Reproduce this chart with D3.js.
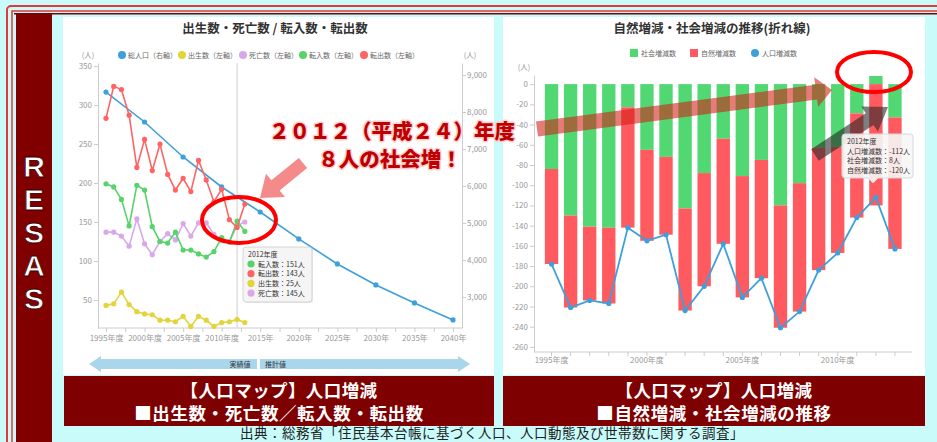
<!DOCTYPE html>
<html>
<head>
<meta charset="utf-8">
<script src="https://cdn.jsdelivr.net/npm/d3@7"></script>
<style>
  body { margin: 0; background: #c9fbfb; }
  svg { display: block; font-family: "Noto Sans CJK JP", "Noto Sans", sans-serif; }
</style>
</head>
<body>
<svg id="chart" width="937" height="442"></svg>
<script>
'use strict';

// ---- data ----
var years = [1995, 1996, 1997, 1998, 1999, 2000, 2001, 2002, 2003, 2004, 2005, 2006, 2007, 2008, 2009, 2010, 2011, 2012, 2013];
var births = [43, 45, 60, 44, 35, 32, 31, 24, 24, 22, 29, 16, 29, 24, 16, 21, 22, 25, 21];
var deaths = [137, 137, 132, 119, 154, 122, 108, 125, 135, 127, 148, 132, 149, 149, 134, 126, 125, 145, 150];
var moveIn = [199, 195, 179, 145, 197, 191, 144, 125, 123, 137, 114, 114, 109, 105, 112, 130, 124, 151, 138];
var moveOut = [283, 324, 320, 287, 220, 256, 216, 250, 211, 191, 206, 189, 229, 204, 176, 192, 153, 143, 173];

var popYears = [1995, 2000, 2005, 2010, 2015, 2020, 2025, 2030, 2035, 2040];
var population = [8540, 7730, 6784, 5973, 5297, 4568, 3892, 3324, 2838, 2378];

var socialChange = [-84, -130, -141, -142, -23, -65, -72, -123, -88, -54, -91, -75, -120, -98, -63, -62, -29, 8, -33];
var naturalChange = [-94, -91, -73, -75, -119, -90, -77, -101, -112, -104, -120, -117, -121, -127, -121, -105, -103, -120, -130];
var popChange = [-178, -221, -214, -217, -142, -155, -149, -224, -200, -158, -211, -192, -241, -225, -184, -167, -132, -112, -163];

var leftTicks = [50, 100, 150, 200, 250, 300, 350];
var rightTicks = [3000, 4000, 5000, 6000, 7000, 8000, 9000];
var yearTicks = [1995, 2000, 2005, 2010, 2015, 2020, 2025, 2030, 2035, 2040];
var changeTicks = [0, -20, -40, -60, -80, -100, -120, -140, -160, -180, -200, -220, -240, -260];
var barLabelYears = [1995, 2000, 2005, 2010];

var C = {
  blue: '#3ea0da', yellow: '#e2d43a', purple: '#d9a8e8', green: '#56d46a', red: '#ff6464',
  barGreen: '#52d873', barRed: '#ff5a5f', axis: '#cccccc', label: '#999999'
};

var svg = d3.select('#chart');

function arrowPath(x1, y1, x2, y2, bw, hw, hl) {
  var dx = x2 - x1, dy = y2 - y1, len = Math.sqrt(dx * dx + dy * dy);
  var ux = dx / len, uy = dy / len, nx = -uy, ny = ux;
  var bx = x2 - ux * hl, by = y2 - uy * hl;
  var pts = [
    [x1 + nx * bw / 2, y1 + ny * bw / 2],
    [bx + nx * bw / 2, by + ny * bw / 2],
    [bx + nx * hw / 2, by + ny * hw / 2],
    [x2, y2],
    [bx - nx * hw / 2, by - ny * hw / 2],
    [bx - nx * bw / 2, by - ny * bw / 2],
    [x1 - nx * bw / 2, y1 - ny * bw / 2]
  ];
  return 'M' + pts.map(function (p) { return p[0].toFixed(1) + ',' + p[1].toFixed(1); }).join('L') + 'Z';
}

function styleAxis(g) {
  g.selectAll('.domain').attr('stroke', C.axis);
  g.selectAll('.tick line').attr('stroke', C.axis);
  g.selectAll('.tick text').attr('fill', C.label).attr('font-size', '8px')
    .attr('font-family', '"Noto Sans CJK JP", sans-serif');
}

// ---- frame ----
svg.append('rect').attr('x', 7).attr('y', 6).attr('width', 945).attr('height', 450).attr('rx', 4)
  .attr('fill', 'none').attr('stroke', '#e23a3a').attr('stroke-width', 2);
svg.append('rect').attr('x', 12).attr('y', 11).attr('width', 945).attr('height', 450)
  .attr('fill', 'none').attr('stroke', '#e23a3a').attr('stroke-width', 1.5);
svg.append('rect').attr('x', 14).attr('y', 13).attr('width', 940).attr('height', 1.5).attr('fill', '#800000');
svg.append('rect').attr('x', 16).attr('y', 13).attr('width', 36).attr('height', 440).attr('fill', '#800000');

['R', 'E', 'S', 'A', 'S'].forEach(function (ch, i) {
  svg.append('text').attr('x', 34).attr('y', 166 + i * 33).attr('dy', '0.36em')
    .attr('text-anchor', 'middle').attr('font-family', '"Liberation Sans", Arial, sans-serif')
    .attr('font-weight', 'bold').attr('font-size', '30px')
    .attr('fill', '#fff').attr('stroke', '#3a0000').attr('stroke-width', 0.8)
    .text(ch);
});

// panels
svg.append('rect').attr('x', 63).attr('y', 17).attr('width', 431).attr('height', 358).attr('fill', '#fff');
svg.append('rect').attr('x', 503).attr('y', 17).attr('width', 422).attr('height', 358).attr('fill', '#fff');

// title boxes
var boxes = [
  { x: 64, w: 430, l1: '【人口マップ】人口増減', l2: '■出生数・死亡数／転入数・転出数' },
  { x: 503, w: 422, l1: '【人口マップ】人口増減', l2: '■自然増減・社会増減の推移' }
];
boxes.forEach(function (b) {
  svg.append('rect').attr('x', b.x).attr('y', 376).attr('width', b.w).attr('height', 50).attr('fill', '#7f0000');
  svg.append('text').attr('x', b.x + b.w / 2).attr('y', 391).attr('dy', '0.36em').attr('text-anchor', 'middle')
    .attr('fill', '#fff').attr('font-weight', 'bold').attr('font-size', '17.5px')
    .attr('letter-spacing', '0.4px').text(b.l1);
  svg.append('text').attr('x', b.x + b.w / 2).attr('y', 413.5).attr('dy', '0.36em').attr('text-anchor', 'middle')
    .attr('fill', '#fff').attr('font-weight', 'bold').attr('font-size', '17.5px')
    .attr('letter-spacing', '0.6px').text(b.l2);
});

svg.append('text').attr('x', 492).attr('y', 433.5).attr('dy', '0.36em').attr('text-anchor', 'middle')
  .attr('fill', '#222').attr('font-size', '13.5px').attr('letter-spacing', '0.5px')
  .text('出典：総務省「住民基本台帳に基づく人口、人口動態及び世帯数に関する調査」');

// ================= left chart =================
var L = svg.append('g');
var lx = d3.scaleLinear().domain([1995, 2040]).range([106, 453]);
var ly = d3.scaleLinear().domain([14, 354]).range([328, 63]);
var ry = d3.scaleLinear().domain([2160, 9325]).range([328, 63]);

L.append('text').attr('x', 275).attr('y', 28).attr('dy', '0.36em').attr('text-anchor', 'middle')
  .attr('font-weight', 'bold').attr('font-size', '12.5px').attr('fill', '#333')
  .text('出生数・死亡数 / 転入数・転出数');

var leftLegend = [
  { name: '総人口（右軸）', color: C.blue, x: 122 },
  { name: '出生数（左軸）', color: C.yellow, x: 182 },
  { name: '死亡数（左軸）', color: C.purple, x: 243 },
  { name: '転入数（左軸）', color: C.green, x: 303 },
  { name: '転出数（左軸）', color: C.red, x: 364 }
];
leftLegend.forEach(function (d) {
  L.append('circle').attr('cx', d.x).attr('cy', 55).attr('r', 4).attr('fill', d.color);
  L.append('text').attr('x', d.x + 6).attr('y', 55).attr('dy', '0.36em').attr('font-size', '7px')
    .attr('fill', '#666').text(d.name);
});
L.append('text').attr('x', 88).attr('y', 55).attr('dy', '0.36em').attr('text-anchor', 'middle')
  .attr('font-size', '7.5px').attr('fill', C.label).text('(人)');
L.append('text').attr('x', 470).attr('y', 55).attr('dy', '0.36em').attr('text-anchor', 'middle')
  .attr('font-size', '7.5px').attr('fill', C.label).text('(人)');

// axes
L.append('g').attr('transform', 'translate(98,0)')
  .call(d3.axisLeft(ly).tickValues(leftTicks).tickSize(4).tickSizeOuter(0).tickPadding(2)
    .tickFormat(function (d) { return String(d); }))
  .call(styleAxis);
L.append('g').attr('transform', 'translate(462,0)')
  .call(d3.axisRight(ry).tickValues(rightTicks).tickSize(4).tickSizeOuter(0).tickPadding(1)
    .tickFormat(d3.format(',')))
  .call(styleAxis);
var lxAxis = L.append('g').attr('transform', 'translate(0,328)')
  .call(d3.axisBottom(lx).tickValues(d3.range(1995, 2041, 2.5)).tickSize(4).tickSizeOuter(0)
    .tickFormat(function (d) {
      if (yearTicks.indexOf(d) < 0) return '';
      return d <= 2010 ? d + '年度' : d + '年';
    }))
  .call(styleAxis);
lxAxis.select('.domain').remove();
L.append('line').attr('x1', 98).attr('x2', 462).attr('y1', 328).attr('y2', 328).attr('stroke', C.axis);

// crosshair at 2012
L.append('line').attr('x1', lx(2012)).attr('x2', lx(2012)).attr('y1', 63).attr('y2', 328)
  .attr('stroke', '#cfcfcf').attr('stroke-width', 1);

function drawSeries(xs, vals, yScale, color) {
  var pts = xs.map(function (x, i) { return [lx(x), yScale(vals[i])]; });
  L.append('path').attr('d', d3.line()(pts)).attr('fill', 'none')
    .attr('stroke', color).attr('stroke-width', 1.6);
  L.append('g').selectAll('circle').data(pts).enter().append('circle')
    .attr('cx', function (d) { return d[0]; }).attr('cy', function (d) { return d[1]; })
    .attr('r', 2.6).attr('fill', color);
}
drawSeries(popYears, population, ry, C.blue);
drawSeries(years, births, ly, C.yellow);
drawSeries(years, deaths, ly, C.purple);
drawSeries(years, moveIn, ly, C.green);
drawSeries(years, moveOut, ly, C.red);

// 実績値 / 推計値 arrows
L.append('path').attr('d', 'M89,364L101,356L101,359L257,359L257,369L101,369L101,372Z').attr('fill', '#a9d6ea');
L.append('path').attr('d', 'M260,359L458,359L458,356L470,364L458,372L458,369L260,369Z').attr('fill', '#a9d6ea');
L.append('text').attr('x', 240).attr('y', 364).attr('dy', '0.36em').attr('text-anchor', 'middle')
  .attr('font-size', '7px').attr('fill', '#333').text('実績値');
L.append('text').attr('x', 265).attr('y', 364).attr('dy', '0.36em')
  .attr('font-size', '7px').attr('fill', '#333').text('推計値');

// tooltip
var tipL = L.append('g').attr('transform', 'translate(243,247)');
tipL.append('rect').attr('x', 1).attr('y', 1).attr('width', 69).attr('height', 55).attr('rx', 3)
  .attr('fill', 'rgba(0,0,0,0.08)');
tipL.append('rect').attr('width', 69).attr('height', 55).attr('rx', 3)
  .attr('fill', 'rgba(246,246,246,0.95)').attr('stroke', '#d4d4d4');
tipL.append('text').attr('x', 5).attr('y', 7).attr('dy', '0.36em').attr('font-size', '7px').attr('fill', '#333').text('2012年度');
var tipRows = [
  { c: C.green, t: '転入数：151人' },
  { c: C.red, t: '転出数：143人' },
  { c: C.yellow, t: '出生数：25人' },
  { c: C.purple, t: '死亡数：145人' }
];
tipRows.forEach(function (r, i) {
  tipL.append('circle').attr('cx', 8).attr('cy', 17 + i * 9.7).attr('r', 3.6).attr('fill', r.c);
  tipL.append('text').attr('x', 15).attr('y', 17 + i * 9.7).attr('dy', '0.36em').attr('font-size', '7px')
    .attr('fill', '#333').text(r.t);
});

// ================= right chart =================
var R = svg.append('g');
var bx = d3.scaleBand().domain(years).range([542, 904.5]).paddingInner(0.3).paddingOuter(0.15);
var by = d3.scaleLinear().domain([-265, 9]).range([352, 75]);
var bw = bx.bandwidth();

R.append('text').attr('x', 712).attr('y', 28).attr('dy', '0.36em').attr('text-anchor', 'middle')
  .attr('font-weight', 'bold').attr('font-size', '12.5px').attr('fill', '#333')
  .text('自然増減・社会増減の推移(折れ線)');

var rightLegend = [
  { name: '社会増減数', color: C.barGreen, x: 634, shape: 'sq' },
  { name: '自然増減数', color: C.barRed, x: 694, shape: 'sq' },
  { name: '人口増減数', color: C.blue, x: 755, shape: 'c' }
];
rightLegend.forEach(function (d) {
  if (d.shape === 'sq') {
    R.append('rect').attr('x', d.x - 4).attr('y', 49).attr('width', 8).attr('height', 8).attr('fill', d.color);
  } else {
    R.append('circle').attr('cx', d.x).attr('cy', 53).attr('r', 4).attr('fill', d.color);
  }
  R.append('text').attr('x', d.x + 7).attr('y', 53).attr('dy', '0.36em').attr('font-size', '7px')
    .attr('fill', '#666').text(d.name);
});
R.append('text').attr('x', 524).attr('y', 67).attr('dy', '0.36em').attr('text-anchor', 'middle')
  .attr('font-size', '7.5px').attr('fill', C.label).text('(人)');

R.append('g').attr('transform', 'translate(534,0)')
  .call(d3.axisLeft(by).tickValues(changeTicks).tickSize(4).tickSizeOuter(0).tickPadding(2)
    .tickFormat(function (d) { return String(d); }))
  .call(styleAxis);
var bxAxis = R.append('g').attr('transform', 'translate(0,352)')
  .call(d3.axisBottom(bx).tickSize(4).tickSizeOuter(0).tickPadding(1)
    .tickFormat(function (d) { return barLabelYears.indexOf(d) >= 0 ? d + '年度' : ''; }))
  .call(styleAxis);
bxAxis.select('.domain').remove();
R.append('line').attr('x1', 534).attr('x2', 912).attr('y1', 352).attr('y2', 352).attr('stroke', C.axis);

var rows = years.map(function (y, i) { return { year: y, social: socialChange[i], natural: naturalChange[i] }; });
var stacked = d3.stack().keys(['social', 'natural']).offset(d3.stackOffsetDiverging)(rows);
var barColor = { social: C.barGreen, natural: C.barRed };
stacked.forEach(function (layer) {
  R.append('g').selectAll('rect').data(layer).enter().append('rect')
    .attr('x', function (d) { return bx(d.data.year); })
    .attr('width', bw)
    .attr('y', function (d) { return by(Math.max(d[0], d[1])); })
    .attr('height', function (d) { return Math.abs(by(d[0]) - by(d[1])); })
    .attr('fill', barColor[layer.key]);
});

var popPts = years.map(function (y, i) { return [bx(y) + bw / 2, by(popChange[i])]; });
R.append('path').attr('d', d3.line()(popPts)).attr('fill', 'none').attr('stroke', C.blue).attr('stroke-width', 1.8);
R.append('g').selectAll('circle').data(popPts).enter().append('circle')
  .attr('cx', function (d) { return d[0]; }).attr('cy', function (d) { return d[1]; })
  .attr('r', 2.6).attr('fill', C.blue);

// ================= annotations =================
var A = svg.append('g');
// pink arrow on left chart
A.append('path').attr('d', arrowPath(303, 163, 260, 198, 13, 30, 20)).attr('fill', '#f58a8a');
// red ellipse left
A.append('ellipse').attr('cx', 239).attr('cy', 220).attr('rx', 37).attr('ry', 23)
  .attr('fill', 'none').attr('stroke', '#f00').attr('stroke-width', 4);

// long semi-transparent arrow across right chart
A.append('path').attr('d', arrowPath(537, 129, 832, 90, 15, 30, 16))
  .attr('fill', 'rgb(210,30,20)').attr('fill-opacity', 0.58);
// dark arrow
A.append('path').attr('d', arrowPath(815, 155, 888, 107, 14, 30, 22))
  .attr('fill', 'rgb(40,40,40)').attr('fill-opacity', 0.6);

// tooltip right
var tipR = A.append('g').attr('transform', 'translate(842,134)');
tipR.append('path').attr('d', 'M0,3Q0,0 3,0L68,0Q71,0 71,3L71,41Q71,44 68,44L36,44L31,49L26,44L3,44Q0,44 0,41Z')
  .attr('fill', 'rgba(246,246,246,0.9)').attr('stroke', '#d8d8d8');
tipR.append('text').attr('x', 5).attr('y', 7).attr('dy', '0.36em').attr('font-size', '7px').attr('fill', '#333').text('2012年度');
['人口増減数：-112人', '社会増減数：8人', '自然増減数：-120人'].forEach(function (t, i) {
  tipR.append('text').attr('x', 5).attr('y', 17 + i * 9.8).attr('dy', '0.36em').attr('font-size', '7px')
    .attr('fill', '#333').text(t);
});

// red ellipse right
A.append('ellipse').attr('cx', 874).attr('cy', 72).attr('rx', 37).attr('ry', 20)
  .attr('fill', 'none').attr('stroke', '#f00').attr('stroke-width', 4);

// big caption
var cap = [
  { t: '２０１２（平成２４）年度', x: 392, y: 132 },
  { t: '８人の社会増！', x: 390, y: 160 }
];
cap.forEach(function (c) {
  A.append('text').attr('x', c.x).attr('y', c.y).attr('dy', '0.36em').attr('text-anchor', 'middle')
    .attr('font-size', '20.5px').attr('font-weight', 900)
    .attr('fill', '#c00000').attr('stroke', '#ffd0d0').attr('stroke-width', 3)
    .attr('paint-order', 'stroke').attr('stroke-linejoin', 'round')
    .text(c.t);
});
</script>
</body>
</html>
